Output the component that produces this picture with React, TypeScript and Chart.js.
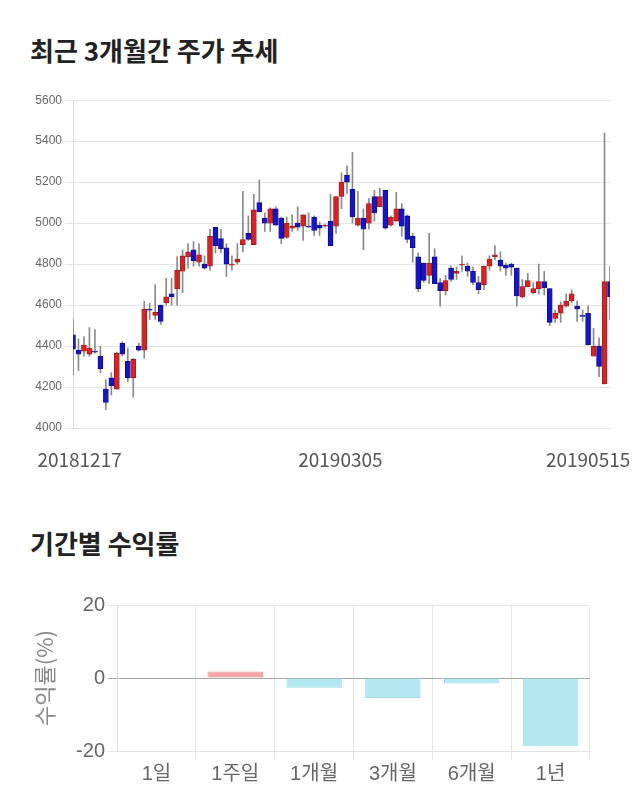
import React, { useEffect, useRef } from 'react';
import { Chart, registerables } from 'chart.js';

Chart.register(...registerables);

// ---- Price chart data (trading days 2018-12-17 .. 2019-05-15) ----
const dates = [
  '20181217','20181218','20181219','20181220','20181221','20181224','20181226','20181227','20181228',
  '20190102','20190103','20190104','20190107','20190108','20190109','20190110','20190111','20190114','20190115',
  '20190116','20190117','20190118','20190121','20190122','20190123','20190124','20190125','20190128','20190129',
  '20190130','20190131',
  '20190201','20190207','20190208','20190211','20190212','20190213','20190214','20190215','20190218','20190219',
  '20190220','20190221','20190222','20190225','20190226','20190227','20190228',
  '20190304','20190305','20190306','20190307','20190308','20190311','20190312','20190313','20190314','20190315',
  '20190318','20190319','20190320','20190321','20190322','20190325','20190326','20190327','20190328','20190329',
  '20190401','20190402','20190403','20190404','20190405','20190408','20190409','20190410','20190411','20190412',
  '20190415','20190416','20190417','20190418','20190419','20190422','20190423','20190424','20190425','20190426',
  '20190429','20190430',
  '20190502','20190503','20190507','20190508','20190509','20190510','20190513','20190514','20190515',
];

const opens = [
  4455,4380,4375,4360,4375,4350,4190,4245,4190,4415,4325,4245,4400,4380,4580,4550,4600,4610,4655,4680,
  4765,4835,4870,4810,4800,4790,4980,4925,4880,4795,4810,4895,4950,4895,5100,5025,5000,5070,5025,4930,
  4975,5000,4985,4985,5030,4990,4985,5010,4985,5130,5235,5165,4990,5025,5000,5130,5080,5160,4990,5010,
  5070,5035,4935,4835,4805,4745,4835,4710,4670,4780,4755,4795,4790,4765,4710,4700,4790,4835,4820,4795,
  4800,4780,4640,4690,4660,4680,4715,4680,4535,4560,4595,4620,4595,4550,4560,4350,4400,4215,4715,
];
const highs = [
  4530,4435,4445,4490,4480,4400,4235,4270,4370,4420,4390,4340,4415,4620,4610,4700,4600,4730,4730,4835,
  4870,4900,4910,4900,4840,4970,4980,4970,4900,4840,4900,5155,5035,5140,5210,5050,5075,5080,5030,5030,
  5040,5080,5040,5050,5035,5005,4995,5140,5130,5245,5280,5345,5155,5070,5120,5160,5170,5160,5035,5150,
  5095,5040,4950,4855,4805,4950,4875,4730,4745,4790,4785,4840,4805,4785,4740,4790,4840,4890,4860,4805,
  4805,4780,4725,4755,4710,4800,4765,4680,4575,4615,4655,4675,4620,4575,4595,4485,4440,5440,4790,
];
const lows = [
  4260,4280,4350,4350,4365,4270,4090,4160,4190,4350,4225,4150,4375,4340,4530,4530,4505,4600,4600,4600,
  4660,4780,4790,4790,4775,4770,4855,4855,4740,4770,4800,4860,4915,4895,5055,4960,4960,4990,4900,4925,
  4960,4965,4915,4980,4940,4940,4980,4890,4950,5070,5145,5000,4985,4870,4970,5010,5080,4970,4985,5010,
  4935,4905,4810,4665,4710,4705,4705,4595,4650,4715,4725,4765,4740,4700,4655,4675,4770,4820,4765,4745,
  4745,4595,4635,4690,4655,4655,4650,4500,4515,4515,4590,4610,4520,4520,4405,4350,4250,4215,4530,
];
const closes = [
  4385,4360,4405,4390,4370,4290,4125,4205,4365,4360,4245,4335,4380,4580,4575,4565,4520,4640,4640,4770,
  4840,4860,4815,4845,4780,4935,4890,4875,4800,4800,4825,4920,4920,5065,5055,5000,5070,4990,4925,5000,
  4985,4980,5040,4980,4965,4975,4990,4890,5130,5200,5200,5030,5025,4970,5095,5050,5130,4975,5030,5070,
  4985,4920,4880,4680,4720,4805,4705,4670,4720,4725,4765,4800,4765,4710,4675,4790,4825,4845,4790,4780,
  4785,4645,4690,4720,4680,4715,4685,4515,4560,4600,4620,4655,4580,4545,4405,4400,4300,4715,4640,
];

const priceMin = 4000;
const priceMax = 5600;
const priceStep = 200;

// date labels shown under the price chart, and their small nudges (in trading days)
const dateLabels = ['20181217', '20190305', '20190515'];
const dateLabelNudge = [1.2, -0.2, -4.0];

// ---- Period return data ----
const periods = ['1일', '1주일', '1개월', '3개월', '6개월', '1년'];
const returns = [0, 1.8, -2.7, -5.5, -1.5, -18.7];
const returnTicks = [-20, 0, 20];

const UP = '#d42424';
const UP_BORDER = '#a51616';
const DOWN = '#1616c6';
const DOWN_BORDER = '#0b0b8c';

const TXT_FONT = '"Liberation Sans", "Noto Sans CJK KR", sans-serif';
const KR_FONT = '"Noto Sans CJK KR", "Noto Sans", sans-serif';

function PriceChart() {
  const ref = useRef<HTMLCanvasElement | null>(null);
  useEffect(() => {
    if (!ref.current) return;
    const up = closes.map((c, i) => c >= opens[i]);
    const labelPositions = dateLabels.map((d, i) => dates.indexOf(d) + dateLabelNudge[i]);
    const chart = new Chart(ref.current, {
      type: 'bar',
      data: {
        labels: dates,
        datasets: [
          {
            label: 'body',
            data: opens.map((o, i) => [o, closes[i]]),
            backgroundColor: up.map((u) => (u ? UP : DOWN)),
            borderColor: up.map((u) => (u ? UP_BORDER : DOWN_BORDER)),
            borderWidth: 0.8,
            borderSkipped: false,
            barThickness: 5,
            grouped: false,
            xAxisID: 'x',
            yAxisID: 'y',
          } as any,
          {
            label: 'wick',
            data: lows.map((l, i) => [l, highs[i]]),
            backgroundColor: '#8a8a8a',
            borderWidth: 0,
            barThickness: 1,
            grouped: false,
            xAxisID: 'x',
            yAxisID: 'y',
          } as any,
        ],
      },
      options: {
        responsive: false,
        animation: false,
        events: [],
        layout: { padding: { top: 9, right: 30, left: 0, bottom: 0 } },
        plugins: { legend: { display: false }, tooltip: { enabled: false } },
        scales: {
          x: { type: 'category', display: false, offset: false },
          x2: {
            type: 'linear',
            position: 'bottom',
            offset: false,
            min: 0,
            max: dates.length - 1,
            grid: { display: false, drawTicks: false, offset: false },
            border: { display: false },
            ticks: {
              autoSkip: false,
              maxRotation: 0,
              padding: 20,
              color: '#555',
              font: { size: 19, family: KR_FONT },
              callback: (_v: any, i: number) => dateLabels[i],
            },
            afterBuildTicks: (s: any) => {
              s.ticks = labelPositions.map((v) => ({ value: v }));
            },
            afterFit: (s: any) => {
              s.height = 52;
              s.paddingLeft = 0;
              s.paddingRight = 0;
            },
          } as any,
          y: {
            min: priceMin,
            max: priceMax,
            ticks: {
              stepSize: priceStep,
              padding: 3,
              color: '#666',
              font: { size: 12, family: TXT_FONT },
              callback: (v: any) => String(v),
            },
            grid: { color: '#e4e4e4', tickLength: 8 },
            border: { display: true, color: '#dcdcdc' },
            afterFit: (s: any) => {
              s.width = 73;
            },
          } as any,
        },
      },
    });
    return () => chart.destroy();
  }, []);
  return (
    <canvas
      ref={ref}
      width={640}
      height={390}
      style={{ position: 'absolute', left: 0, top: 90, width: 640, height: 390 }}
    />
  );
}

function ReturnChart() {
  const ref = useRef<HTMLCanvasElement | null>(null);
  useEffect(() => {
    if (!ref.current) return;
    const chart = new Chart(ref.current, {
      type: 'bar',
      data: {
        labels: periods,
        datasets: [
          {
            label: '수익률',
            data: returns,
            backgroundColor: returns.map((v) => (v >= 0 ? '#f7a4a4' : '#b2e8f2')),
            borderColor: returns.map((v) => (v >= 0 ? '#f09595' : '#a2dbe6')),
            borderWidth: 1,
            categoryPercentage: 0.8,
            barPercentage: 0.88,
          },
        ],
      },
      options: {
        responsive: false,
        animation: false,
        events: [],
        layout: { padding: { top: 15, right: 50, left: 29, bottom: 0 } },
        plugins: { legend: { display: false }, tooltip: { enabled: false } },
        scales: {
          x: {
            grid: {
              offset: true,
              tickLength: 9,
              color: (ctx: any) =>
                ctx.index === 0 || ctx.index >= periods.length ? 'rgba(0,0,0,0)' : '#e6e6e6',
            },
            border: { display: true, color: '#e2e2e2' },
            ticks: {
              padding: 2,
              color: '#666',
              font: { size: 20, family: TXT_FONT },
            },
            afterFit: (s: any) => {
              s.height = 59;
            },
          } as any,
          y: {
            min: returnTicks[0],
            max: returnTicks[returnTicks.length - 1],
            afterBuildTicks: (s: any) => {
              s.ticks = returnTicks.map((v) => ({ value: v }));
            },
            ticks: {
              padding: 3,
              color: '#666',
              font: { size: 20, family: TXT_FONT },
            },
            grid: {
              tickLength: 9,
              color: (ctx: any) => (ctx.tick && ctx.tick.value === 0 ? '#a8a8a8' : '#e6e6e6'),
            },
            border: { display: true, color: '#dcdcdc' },
            title: {
              display: true,
              text: '수익률(%)',
              color: '#888',
              font: { size: 22, family: KR_FONT },
              padding: { top: 2, bottom: 0 },
            },
            afterFit: (s: any) => {
              s.width = 88;
            },
          } as any,
        },
      },
    });
    return () => chart.destroy();
  }, []);
  return (
    <canvas
      ref={ref}
      width={640}
      height={220}
      style={{ position: 'absolute', left: 0, top: 590, width: 640, height: 220 }}
    />
  );
}

export default function App() {
  const titleStyle: React.CSSProperties = {
    position: 'absolute',
    left: 30,
    margin: 0,
    fontFamily: KR_FONT,
    fontWeight: 700,
    fontSize: 26,
    lineHeight: '26px',
    color: '#222',
    whiteSpace: 'nowrap',
  };
  return (
    <div
      style={{
        position: 'absolute',
        left: 0,
        top: 0,
        width: 640,
        height: 810,
        background: '#fff',
        overflow: 'hidden',
      }}
    >
      <div style={{ ...titleStyle, top: 37 }}>최근 3개월간 주가 추세</div>
      <PriceChart />
      <div style={{ ...titleStyle, top: 530 }}>기간별 수익률</div>
      <ReturnChart />
    </div>
  );
}
